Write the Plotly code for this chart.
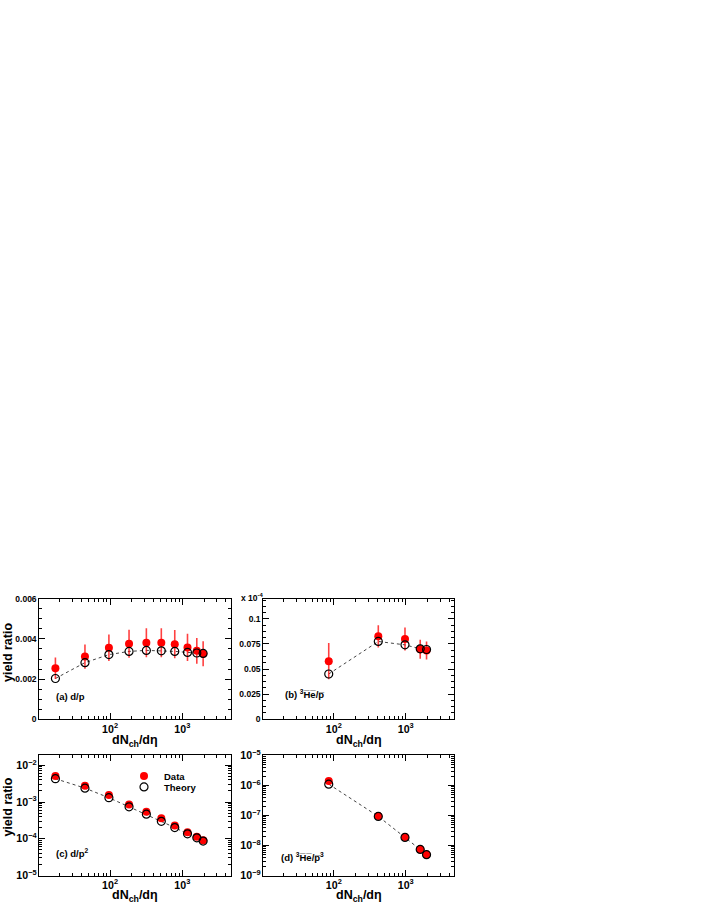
import plotly.graph_objects as go

# ---------------- data ----------------
# panel (a) d/p
x_a = [17.5, 44.9, 96.3, 183, 318, 512, 786, 1180, 1587, 1943]
data_a = [0.00254, 0.00312, 0.00356, 0.00376, 0.00381, 0.00381, 0.00374, 0.00358, 0.00341, 0.00326]
err_a = [0.00053, 0.00060, 0.00066, 0.00070, 0.00072, 0.00072, 0.00070, 0.00068, 0.00064, 0.00062]
theo_a = [0.00203, 0.00282, 0.00322, 0.00338, 0.00343, 0.00341, 0.00338, 0.00333, 0.00330, 0.00328]

# panel (b) 3He-bar / p-bar  (in units of 1e-4)
x_b = [85, 415, 975, 1587, 1943]
data_b = [0.0579, 0.0826, 0.0800, 0.0698, 0.0685]
err_b = [0.0180, 0.0110, 0.0115, 0.0095, 0.0090]
theo_b = [0.0451, 0.0775, 0.0741, 0.0702, 0.0695]

# panel (c) d/p^2
x_c = [17.5, 44.9, 96.3, 183, 318, 512, 786, 1180, 1587, 1943]
data_c = [5.1e-3, 2.76e-3, 1.55e-3, 8.5e-4, 5.4e-4, 3.59e-4, 2.29e-4, 1.51e-4, 1.13e-4, 9.06e-5]
theo_c = [4.31e-3, 2.39e-3, 1.31e-3, 7.4e-4, 4.68e-4, 2.99e-4, 2.02e-4, 1.36e-4, 1.06e-4, 8.67e-5]

# panel (d) 3He-bar / p-bar^3
x_d = [85, 415, 975, 1587, 1943]
data_d = [1.41e-6, 9.5e-8, 1.90e-8, 7.5e-9, 4.99e-9]
theo_d = [1.10e-6, 9.3e-8, 1.85e-8, 7.4e-9, 4.95e-9]

# ---------------- style ----------------
W, H = 706, 914
FONT = "Liberation Sans"
RED = "#ff0000"
RED_ERR = "rgba(255,0,0,0.75)"

def px(xp):
    return xp / W

def py(yp):
    return 1 - yp / H

fig = go.Figure()

panels = [
    ("a", "x", "y", x_a, data_a, err_a, theo_a, False),
    ("b", "x2", "y2", x_b, data_b, err_b, theo_b, False),
    ("c", "x3", "y3", x_c, data_c, None, theo_c, True),
    ("d", "x4", "y4", x_d, data_d, None, theo_d, False),
]

for name, xa, ya, xs, ds, es, ts, leg in panels:
    fig.add_trace(go.Scatter(
        x=xs, y=ts, xaxis=xa, yaxis=ya, mode="lines",
        line=dict(color="#444444", width=1, dash="3px,3px"),
        showlegend=False, hoverinfo="skip"))
    fig.add_trace(go.Scatter(
        x=xs, y=ds, xaxis=xa, yaxis=ya, mode="markers", name="Data",
        marker=dict(symbol="circle", size=8, color=RED, line=dict(width=0)),
        error_y=(dict(type="data", array=es, visible=True, color=RED_ERR,
                      thickness=1.6, width=0) if es is not None else None),
        showlegend=leg, legend="legend"))
    fig.add_trace(go.Scatter(
        x=xs, y=ts, xaxis=xa, yaxis=ya, mode="markers", name="Theory",
        marker=dict(symbol="circle-open", size=8, color="black",
                    line=dict(width=1.2, color="black")),
        showlegend=leg, legend="legend2"))

boxes = {
    "a": (39.3, 230.7, 600, 722.3),
    "b": (263.3, 454.0, 600, 722.3),
    "c": (39.3, 230.7, 759, 881),
    "d": (263.3, 454.0, 759, 881),
}

tickfont = dict(family=FONT, size=8.5, color="black", weight="bold")

common = dict(
    showline=True, linecolor="black", linewidth=1, mirror="allticks",
    ticks="inside", ticklen=6, tickwidth=1, tickcolor="black",
    showgrid=False, zeroline=False, tickfont=tickfont,
)
minor_log = dict(ticks="inside", ticklen=3, dtick="D1", tickcolor="black", showgrid=False)

xlog = dict(type="log", range=[1.02, 3.67], dtick=1, exponentformat="power",
            minor=minor_log, **common)

layout_axes = {}
for key, xn, yn in [("a", "xaxis", "yaxis"), ("b", "xaxis2", "yaxis2"),
                    ("c", "xaxis3", "yaxis3"), ("d", "xaxis4", "yaxis4")]:
    l, r, t, b = boxes[key]
    anchor_y = yn.replace("axis", "")
    anchor_x = xn.replace("axis", "")
    layout_axes[xn] = dict(domain=[px(l), px(r)], anchor=anchor_y, **xlog)
    ydom = [py(b), py(t)]
    if key == "a":
        layout_axes[yn] = dict(domain=ydom, anchor=anchor_x, range=[0, 0.006],
                               tickvals=[0, 0.002, 0.004, 0.006],
                               ticktext=["0", "0.002", "0.004", "0.006"],
                               minor=dict(ticks="inside", ticklen=3, dtick=0.0005,
                                          tickcolor="black", showgrid=False),
                               **common)
    elif key == "b":
        layout_axes[yn] = dict(domain=ydom, anchor=anchor_x, range=[0, 0.12],
                               tickvals=[0, 0.025, 0.05, 0.075, 0.1],
                               ticktext=["0", "0.025", "0.05", "0.075", "0.1"],
                               minor=dict(ticks="inside", ticklen=3, dtick=0.00625,
                                          tickcolor="black", showgrid=False),
                               **common)
    elif key == "c":
        layout_axes[yn] = dict(domain=ydom, anchor=anchor_x, type="log",
                               range=[-5, -1.73], dtick=1, exponentformat="power",
                               minor=minor_log, **common)
    else:
        layout_axes[yn] = dict(domain=ydom, anchor=anchor_x, type="log",
                               range=[-9, -5], dtick=1, exponentformat="power",
                               minor=minor_log, **common)

titlefont = dict(family=FONT, size=12.5, color="black", weight="bold")
labfont = dict(family=FONT, size=9.5, color="black", weight="bold")

annotations = []
for key, ycen in [("a", 744), ("b", 744), ("c", 902), ("d", 902)]:
    l, r, t, b = boxes[key]
    annotations.append(dict(text="dN<sub>ch</sub>/dη", x=px((l + r) / 2), y=py(ycen),
                            xref="paper", yref="paper", showarrow=False,
                            xanchor="center", yanchor="middle", font=titlefont))
for ycen in [655, 812]:
    annotations.append(dict(text="yield ratio", x=px(8), y=py(ycen), xref="paper",
                            yref="paper", showarrow=False, textangle=-90,
                            xanchor="center", yanchor="middle", font=titlefont))
labels = [
    dict(text="(a) d/p", x=px(54), y=py(699), xanchor="left"),
    dict(text="(b) <sup>3</sup>H\u0305e\u0305/p\u0305", x=px(283), y=py(697), xanchor="left"),
    dict(text="(c) d/p<sup>2</sup>", x=px(54), y=py(858), xanchor="left"),
    dict(text="(d) <sup>3</sup>H\u0305e\u0305/p\u0305<sup>3</sup>", x=px(279), y=py(862), xanchor="left"),
    dict(text="x 10<sup>-4</sup>", x=px(239), y=py(599), xanchor="left",
         font=dict(family=FONT, size=8.5, color="black", weight="bold")),
]
for a in labels:
    a.update(xref="paper", yref="paper", showarrow=False, yanchor="middle")
    a.setdefault("font", labfont)
annotations += labels

legfont = dict(family=FONT, size=9.5, color="black", weight="bold")
fig.update_layout(
    width=W, height=H,
    margin=dict(l=0, r=0, t=0, b=0),
    paper_bgcolor="white", plot_bgcolor="white",
    showlegend=True,
    legend=dict(x=px(124), y=py(780), xanchor="left", yanchor="middle",
                bgcolor="rgba(0,0,0,0)", font=legfont, itemwidth=30),
    legend2=dict(x=px(124), y=py(791), xanchor="left", yanchor="middle",
                 bgcolor="rgba(0,0,0,0)", font=legfont, itemwidth=30),
    annotations=annotations,
    **layout_axes,
)

fig.write_html("out.html",
               config={"displayModeBar": False},
               post_script="document.body.style.margin='0';document.body.style.overflow='hidden';")
